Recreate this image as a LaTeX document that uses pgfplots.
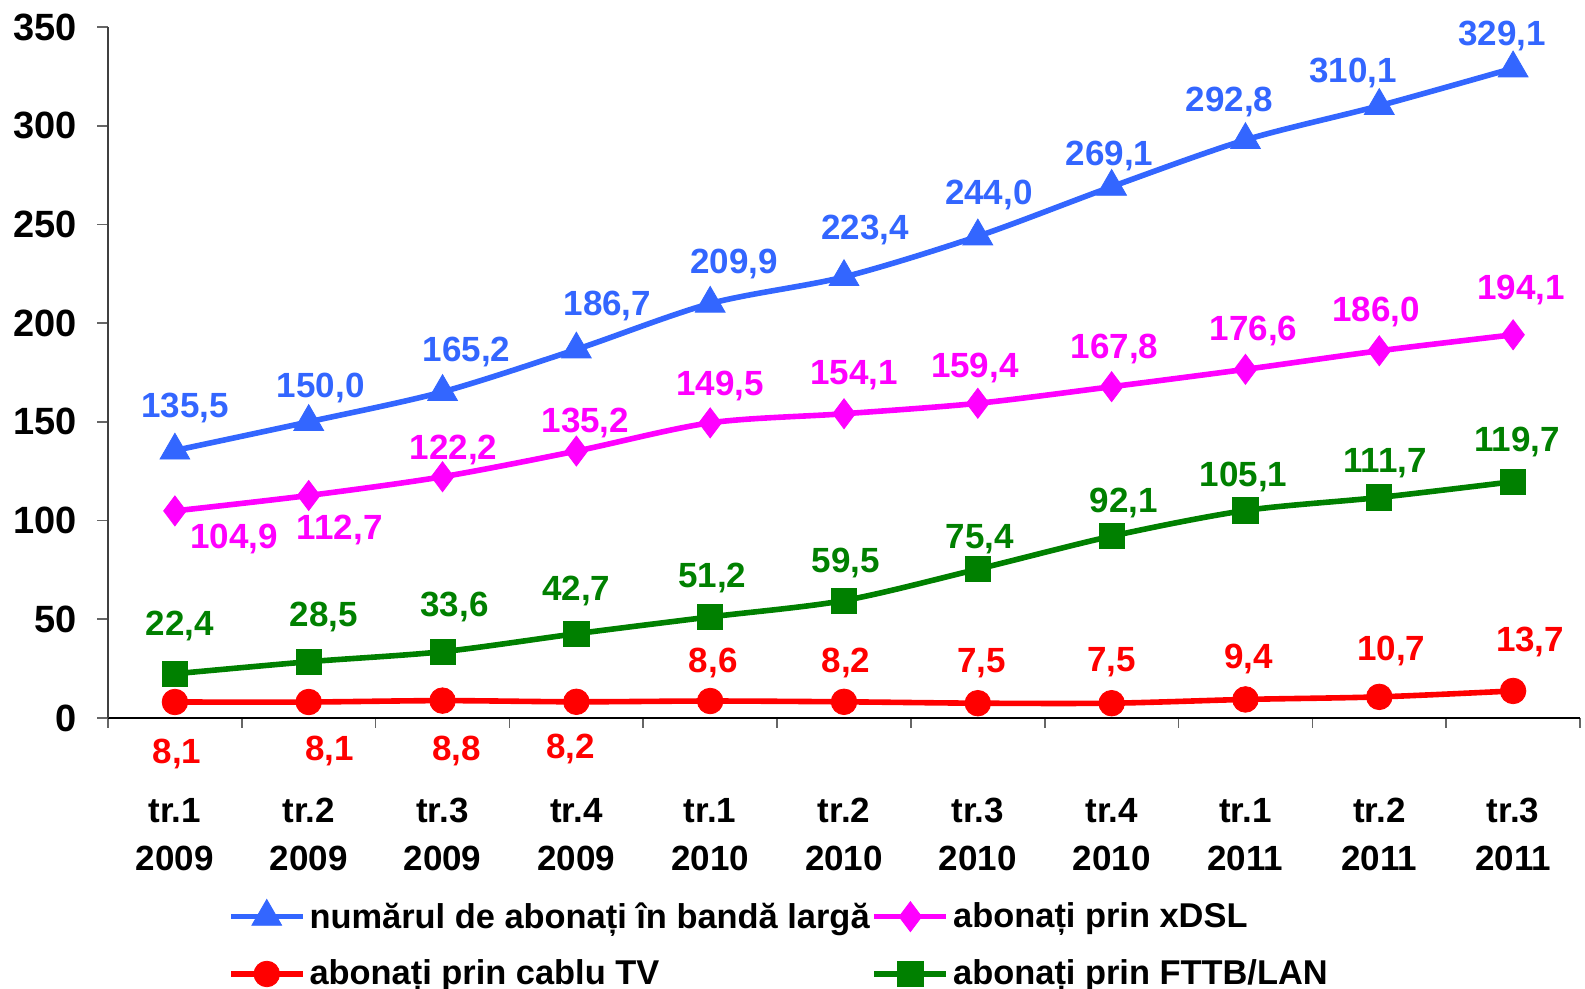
\documentclass[border=0pt]{standalone}
\usepackage{pgfplots}
\pgfplotsset{compat=1.18}
\usepackage{pgfplotstable}
\usepackage{fontspec}
\setmainfont{Liberation Sans}

\definecolor{cBlue}{RGB}{51,102,255}
\definecolor{cMag}{RGB}{255,0,255}
\definecolor{cRed}{RGB}{255,0,0}
\definecolor{cGreen}{RGB}{0,128,0}

% x, value, label offset (px: dx right, dy up), label
\pgfplotstableread{
x y dx dy lab
0 135.5 10 45 135,5
1 150.0 12 37 150,0
2 165.2 24 43 165,2
3 186.7 31 46 186,7
4 209.9 24 42 209,9
5 223.4 21 50 223,4
6 244.0 11 44 244,0
7 269.1 -2 33 269,1
8 292.8 -16 41 292,8
9 310.1 -26 35 310,1
10 329.1 -11 35 329,1
}\tblBlue

\pgfplotstableread{
x y dx dy lab
0 104.9 59 -25 104,9
1 112.7 31 -32 112,7
2 122.2 11 29 122,2
3 135.2 9 31 135,2
4 149.5 10 40 149,5
5 154.1 10 41 154,1
6 159.4 -3 38 159,4
7 167.8 3 40 167,8
8 176.6 8 41 176,6
9 186.0 -3 41 186,0
10 194.1 8 48 194,1
}\tblMag

\pgfplotstableread{
x y dx dy lab
0 8.1 2 -49 8,1
1 8.1 21 -46 8,1
2 8.8 14 -48 8,8
3 8.2 -6 -44 8,2
4 8.6 3 41 8,6
5 8.2 2 42 8,2
6 7.5 4 43 7,5
7 7.5 0 44 7,5
8 9.4 3 43 9,4
9 10.7 12 49 10,7
10 13.7 17 52 13,7
}\tblRed

\pgfplotstableread{
x y dx dy lab
0 22.4 5 50 22,4
1 28.5 15 47 28,5
2 33.6 12 47 33,6
3 42.7 0 45 42,7
4 51.2 2 42 51,2
5 59.5 2 40 59,5
6 75.4 2 33 75,4
7 92.1 12 36 92,1
8 105.1 -2 36 105,1
9 111.7 6 37 111,7
10 119.7 4 42 119,7
}\tblGreen

\newcommand{\lblfont}{\fontsize{17.5}{21}\selectfont\bfseries}

\pgfplotsset{
  lbl/.style={
    nodes near coords,
    point meta=explicit symbolic,
    visualization depends on={\thisrow{dx}\as\dx},
    visualization depends on={\thisrow{dy}\as\dy},
    every node near coord/.append style={anchor=center, inner sep=0pt,
      text depth=0pt, font=\lblfont, text=#1,
      xshift=\dx*0.5pt, yshift=\dy*0.5pt},
  },
}

\begin{document}
\begin{tikzpicture}
\path[use as bounding box] (-54pt,-135.5pt) rectangle (738.5pt,359pt);
\begin{axis}[
  at={(0,0)}, anchor=south west,
  scale only axis, width=736pt, height=345.5pt,
  xmin=-0.5, xmax=10.5, ymin=0, ymax=350,
  clip=false,
  axis lines=left, axis line style={-},
  x axis line style={black, line width=0.8pt},
  y axis line style={black!75, line width=0.8pt},
  tick align=outside,
  /pgf/number format/assume math mode=true,
  ytick={0,50,...,350},
  xtick={0,...,10},
  xticklabels={{tr.1\\2009},{tr.2\\2009},{tr.3\\2009},{tr.4\\2009},
                {tr.1\\2010},{tr.2\\2010},{tr.3\\2010},{tr.4\\2010},
                {tr.1\\2011},{tr.2\\2011},{tr.3\\2011}},
  minor xtick={-0.5,0.5,...,10.5},
  major tick length=5.5pt, minor tick length=5pt,
  major x tick style={draw=none},
  minor x tick style={black!60, line width=0.8pt},
  major y tick style={black!60, line width=0.8pt},
  yticklabel style={font=\fontsize{19}{22}\selectfont\bfseries, anchor=east,
    inner sep=0pt, xshift=-10pt},
  xticklabel style={font=\fontsize{17.5}{24}\selectfont\bfseries, align=center,
    anchor=north, inner sep=0pt, yshift=-34.5pt},
  legend columns=2,
  legend cell align=left,
  legend style={draw=none, fill=none, inner sep=0pt, outer sep=0pt,
    anchor=north west, at={(axis description cs:0.0815,-0.261)},
    font=\fontsize{17.2}{21}\selectfont\bfseries, row sep=10.5pt,
    /tikz/every even column/.append style={column sep=-1pt}},
  legend image code/.code={\draw[mark repeat=2,mark phase=2,#1]
    plot coordinates {(0pt,0pt) (18pt,0pt) (36pt,0pt)};},
  every axis plot/.append style={line width=2.8pt, smooth, tension=0.5},
]
\addplot[cBlue, mark=triangle*, mark size=8.6pt,
  mark options={line width=0.4pt, fill=cBlue, draw=cBlue}, lbl=cBlue]
  table[x=x, y=y, meta=lab] {\tblBlue};
\addlegendentry{numărul de abonați în bandă largă}
\addplot[cMag, mark=diamond*, mark size=7.5pt,
  mark options={line width=0.4pt, fill=cMag, draw=cMag}, lbl=cMag]
  table[x=x, y=y, meta=lab] {\tblMag};
\addlegendentry{abonați prin xDSL}
\addplot[cRed, mark=*, mark size=6.4pt,
  mark options={line width=0.4pt, fill=cRed, draw=cRed}, lbl=cRed]
  table[x=x, y=y, meta=lab] {\tblRed};
\addlegendentry{abonați prin cablu TV}
\addplot[cGreen, mark=square*, mark size=6.3pt,
  mark options={line width=0.4pt, fill=cGreen, draw=cGreen}, lbl=cGreen]
  table[x=x, y=y, meta=lab] {\tblGreen};
\addlegendentry{abonați prin FTTB/LAN}
\end{axis}
\end{tikzpicture}
\end{document}
